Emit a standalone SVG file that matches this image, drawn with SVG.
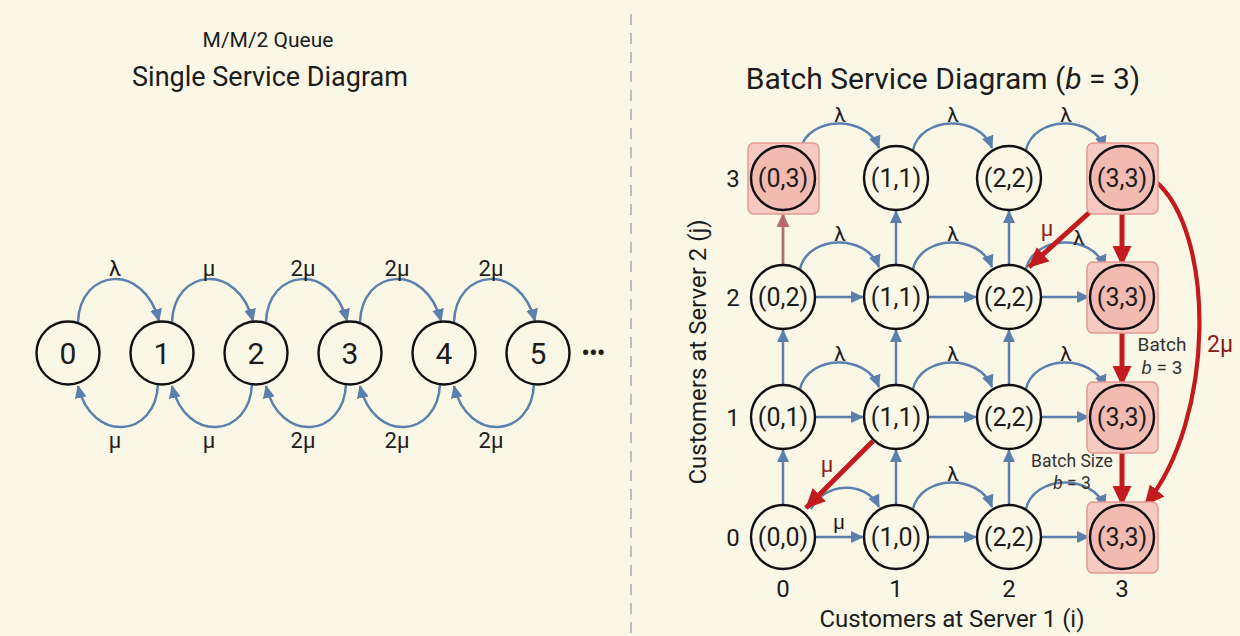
<svg xmlns="http://www.w3.org/2000/svg" width="1240" height="636" viewBox="0 0 1240 636">
<style>
text{font-family:Roboto,"Liberation Sans",Arial,sans-serif;fill:#1c1c1c}
.t1{font-size:21px;text-anchor:middle}
.t2{font-size:27px;text-anchor:middle}
.sn circle{fill:none;stroke:#111;stroke-width:2.4}
.sn text{font-size:30px;text-anchor:middle}
.gn circle{fill:none;stroke:#111;stroke-width:2.4}
.gn.pk circle{fill:#f3bab2}
.gn rect{fill:#f6c9c2;stroke:#e39a92;stroke-width:1.5}
.gn text{font-size:25px;text-anchor:middle}
.lb{font-size:22px;text-anchor:middle}
.lg{font-size:21px;text-anchor:middle}
.ax{font-size:24px;text-anchor:middle}
.sm{font-size:17.5px;text-anchor:middle;fill:#333}
.rl{font-size:22px;text-anchor:middle;fill:#8b1c1c}
.b{fill:none;stroke:#5b80ad;stroke-width:2.5}
.r{fill:none;stroke:#c21a1d;stroke-width:5}
.ra{fill:none;stroke:#c21a1d;stroke-width:4.2}
.m{fill:none;stroke:#b56a6e;stroke-width:2.8}
</style>
<defs>
<marker id="ab" markerUnits="userSpaceOnUse" markerWidth="13" markerHeight="12" refX="12" refY="6" orient="auto"><path d="M0,0 L13,6 L0,12 z" fill="#5b80ad"/></marker>
<marker id="ar" markerUnits="userSpaceOnUse" markerWidth="20" markerHeight="19" refX="19" refY="9.5" orient="auto"><path d="M0,0 L20,9.5 L0,19 z" fill="#c21a1d"/></marker>
<marker id="am" markerUnits="userSpaceOnUse" markerWidth="14" markerHeight="13" refX="13" refY="6.5" orient="auto"><path d="M0,0 L14,6.5 L0,13 z" fill="#b56a6e"/></marker>
</defs>
<rect width="1240" height="636" fill="#fbf7e6"/>
<line x1="631" y1="14" x2="631" y2="636" stroke="#bcbcbc" stroke-width="2" stroke-dasharray="11,8"/>

<text class="t1" x="268" y="47">M/M/2 Queue</text>
<text class="t2" x="270" y="86">Single Service Diagram</text>
<text class="t2" x="943" y="89" style="font-size:30px">Batch Service Diagram (<tspan font-style="italic">b</tspan> = 3)</text>

<g id="connectors">
<path class="b" d="M78,322 C80,268 144,262 159,321" marker-end="url(#ab)"/>
<path class="b" d="M172,322 C174,268 238,262 253,321" marker-end="url(#ab)"/>
<path class="b" d="M266,322 C268,268 332,262 347,321" marker-end="url(#ab)"/>
<path class="b" d="M360,322 C362,268 426,262 441,321" marker-end="url(#ab)"/>
<path class="b" d="M454,322 C456,268 520,262 535,321" marker-end="url(#ab)"/>
<path class="b" d="M158,384 C156,438 92,444 78,386" marker-end="url(#ab)"/>
<path class="b" d="M252,384 C250,438 186,444 172,386" marker-end="url(#ab)"/>
<path class="b" d="M346,384 C344,438 280,444 266,386" marker-end="url(#ab)"/>
<path class="b" d="M440,384 C438,438 374,444 360,386" marker-end="url(#ab)"/>
<path class="b" d="M534,384 C532,438 468,444 454,386" marker-end="url(#ab)"/>

<path class="b" d="M800,150 C808,116 866,114 879,148" marker-end="url(#ab)"/>
<path class="b" d="M913,150 C921,116 979,114 992,148" marker-end="url(#ab)"/>
<path class="b" d="M1026,150 C1034,116 1092,114 1105,148" marker-end="url(#ab)"/>
<path class="b" d="M800,269 C808,235 866,233 879,267" marker-end="url(#ab)"/>
<path class="b" d="M913,269 C921,235 979,233 992,267" marker-end="url(#ab)"/>
<path class="b" d="M1026,269 C1034,235 1092,233 1105,267" marker-end="url(#ab)"/>
<path class="b" d="M800,389 C808,355 866,353 879,387" marker-end="url(#ab)"/>
<path class="b" d="M913,389 C921,355 979,353 992,387" marker-end="url(#ab)"/>
<path class="b" d="M1026,389 C1034,355 1092,353 1105,387" marker-end="url(#ab)"/>
<path class="b" d="M811,509 C824,482 866,480 879,507" marker-end="url(#ab)"/>
<path class="b" d="M913,509 C921,475 979,473 992,507" marker-end="url(#ab)"/>
<path class="b" d="M1026,509 C1034,475 1092,473 1105,507" marker-end="url(#ab)"/>

<line class="b" x1="815" y1="297" x2="863" y2="297" marker-end="url(#ab)"/>
<line class="b" x1="928" y1="297" x2="976" y2="297" marker-end="url(#ab)"/>
<line class="b" x1="1041" y1="297" x2="1089" y2="297" marker-end="url(#ab)"/>
<line class="b" x1="815" y1="417" x2="863" y2="417" marker-end="url(#ab)"/>
<line class="b" x1="928" y1="417" x2="976" y2="417" marker-end="url(#ab)"/>
<line class="b" x1="1041" y1="417" x2="1089" y2="417" marker-end="url(#ab)"/>
<line class="b" x1="815" y1="537" x2="863" y2="537" marker-end="url(#ab)"/>
<line class="b" x1="928" y1="537" x2="976" y2="537" marker-end="url(#ab)"/>
<line class="b" x1="1041" y1="537" x2="1089" y2="537" marker-end="url(#ab)"/>

<line class="b" x1="783" y1="505" x2="783" y2="450" marker-end="url(#ab)"/>
<line class="b" x1="896" y1="505" x2="896" y2="450" marker-end="url(#ab)"/>
<line class="b" x1="1009" y1="505" x2="1009" y2="450" marker-end="url(#ab)"/>
<line class="b" x1="783" y1="385" x2="783" y2="330" marker-end="url(#ab)"/>
<line class="b" x1="896" y1="385" x2="896" y2="330" marker-end="url(#ab)"/>
<line class="b" x1="1009" y1="385" x2="1009" y2="330" marker-end="url(#ab)"/>
<line class="m" x1="783" y1="265" x2="783" y2="214" marker-end="url(#am)"/>
<line class="b" x1="896" y1="265" x2="896" y2="211" marker-end="url(#ab)"/>
<line class="b" x1="1009" y1="265" x2="1009" y2="211" marker-end="url(#ab)"/>

<line class="r" x1="1101" y1="202" x2="1029" y2="267" marker-end="url(#ar)"/>
<line class="r" x1="1122" y1="211" x2="1122" y2="265" marker-end="url(#ar)"/>
<line class="r" x1="1122" y1="331" x2="1122" y2="385" marker-end="url(#ar)"/>
<line class="r" x1="1122" y1="450" x2="1122" y2="505" marker-end="url(#ar)"/>
<line class="r" x1="873" y1="441" x2="806" y2="508" marker-end="url(#ar)"/>
<path class="ra" d="M1154,180 C1216,230 1216,420 1145,505" marker-end="url(#ar)"/>
</g>

<g id="labels">
<text class="lb" x="115" y="276">λ</text>
<text class="lb" x="209" y="276">μ</text>
<text class="lb" x="303" y="276">2μ</text>
<text class="lb" x="397" y="276">2μ</text>
<text class="lb" x="491" y="276">2μ</text>
<text class="lb" x="115" y="448">μ</text>
<text class="lb" x="209" y="448">μ</text>
<text class="lb" x="303" y="448">2μ</text>
<text class="lb" x="397" y="448">2μ</text>
<text class="lb" x="491" y="448">2μ</text>
<text x="593" y="362" style="font-size:26px;text-anchor:middle;letter-spacing:-1px">•••</text>

<text class="lg" x="840" y="122">λ</text>
<text class="lg" x="953" y="122">λ</text>
<text class="lg" x="1066" y="122">λ</text>
<text class="lg" x="840" y="241">λ</text>
<text class="lg" x="953" y="241">λ</text>
<text class="lg" x="1079" y="245">λ</text>
<text class="lg" x="840" y="361">λ</text>
<text class="lg" x="953" y="361">λ</text>
<text class="lg" x="1066" y="361">λ</text>
<text class="lg" x="953" y="481">λ</text>
<text class="lg" x="839" y="529">μ</text>
<text class="rl" x="1047" y="236">μ</text>
<text class="rl" x="827" y="472">μ</text>
<text class="rl" x="1220" y="352" style="font-size:23px">2μ</text>
<text class="sm" x="1072" y="467">Batch Size</text>
<text class="sm" x="1072" y="489"><tspan font-style="italic">b</tspan> = 3</text>
<text class="sm" x="1162" y="351" style="font-size:19px">Batch</text>
<text class="sm" x="1162" y="374" style="font-size:19px"><tspan font-style="italic">b</tspan> = 3</text>

<text class="ax" x="733" y="187">3</text>
<text class="ax" x="733" y="306">2</text>
<text class="ax" x="733" y="426">1</text>
<text class="ax" x="733" y="546">0</text>
<text class="ax" x="783" y="597">0</text>
<text class="ax" x="896" y="597">1</text>
<text class="ax" x="1009" y="597">2</text>
<text class="ax" x="1122" y="597">3</text>
<text class="ax" x="952" y="627">Customers at Server 1 (i)</text>
<text class="ax" transform="translate(706,352) rotate(-90)">Customers at Server 2 (j)</text>
</g>

<g id="s0" class="sn"><circle cx="68" cy="353" r="31.5"/><text x="68" y="364">0</text></g>
<g id="s1" class="sn"><circle cx="162" cy="353" r="31.5"/><text x="162" y="364">1</text></g>
<g id="s2" class="sn"><circle cx="256" cy="353" r="31.5"/><text x="256" y="364">2</text></g>
<g id="s3" class="sn"><circle cx="350" cy="353" r="31.5"/><text x="350" y="364">3</text></g>
<g id="s4" class="sn"><circle cx="444" cy="353" r="31.5"/><text x="444" y="364">4</text></g>
<g id="s5" class="sn"><circle cx="538" cy="353" r="31.5"/><text x="538" y="364">5</text></g>

<g id="g03" class="gn pk"><rect x="748" y="143" width="71" height="71" rx="6"/><circle cx="783" cy="178" r="32"/><text x="783" y="187">(0,3)</text></g>
<g id="g13" class="gn"><circle cx="896" cy="178" r="32"/><text x="896" y="187">(1,1)</text></g>
<g id="g23" class="gn"><circle cx="1009" cy="178" r="32"/><text x="1009" y="187">(2,2)</text></g>
<g id="g33" class="gn pk"><rect x="1087" y="143" width="71" height="71" rx="6"/><circle cx="1122" cy="178" r="32"/><text x="1122" y="187">(3,3)</text></g>

<g id="g02" class="gn"><circle cx="783" cy="297" r="32"/><text x="783" y="306">(0,2)</text></g>
<g id="g12" class="gn"><circle cx="896" cy="297" r="32"/><text x="896" y="306">(1,1)</text></g>
<g id="g22" class="gn"><circle cx="1009" cy="297" r="32"/><text x="1009" y="306">(2,2)</text></g>
<g id="g32" class="gn pk"><rect x="1087" y="262" width="71" height="71" rx="6"/><circle cx="1122" cy="297" r="32"/><text x="1122" y="306">(3,3)</text></g>

<g id="g01" class="gn"><circle cx="783" cy="417" r="32"/><text x="783" y="426">(0,1)</text></g>
<g id="g11" class="gn"><circle cx="896" cy="417" r="32"/><text x="896" y="426">(1,1)</text></g>
<g id="g21" class="gn"><circle cx="1009" cy="417" r="32"/><text x="1009" y="426">(2,2)</text></g>
<g id="g31" class="gn pk"><rect x="1087" y="382" width="71" height="71" rx="6"/><circle cx="1122" cy="417" r="32"/><text x="1122" y="426">(3,3)</text></g>

<g id="g00" class="gn"><circle cx="783" cy="537" r="32"/><text x="783" y="546">(0,0)</text></g>
<g id="g10" class="gn"><circle cx="896" cy="537" r="32"/><text x="896" y="546">(1,0)</text></g>
<g id="g20" class="gn"><circle cx="1009" cy="537" r="32"/><text x="1009" y="546">(2,2)</text></g>
<g id="g30" class="gn pk"><rect x="1087" y="502" width="71" height="71" rx="6"/><circle cx="1122" cy="537" r="32"/><text x="1122" y="546">(3,3)</text></g>
</svg>
